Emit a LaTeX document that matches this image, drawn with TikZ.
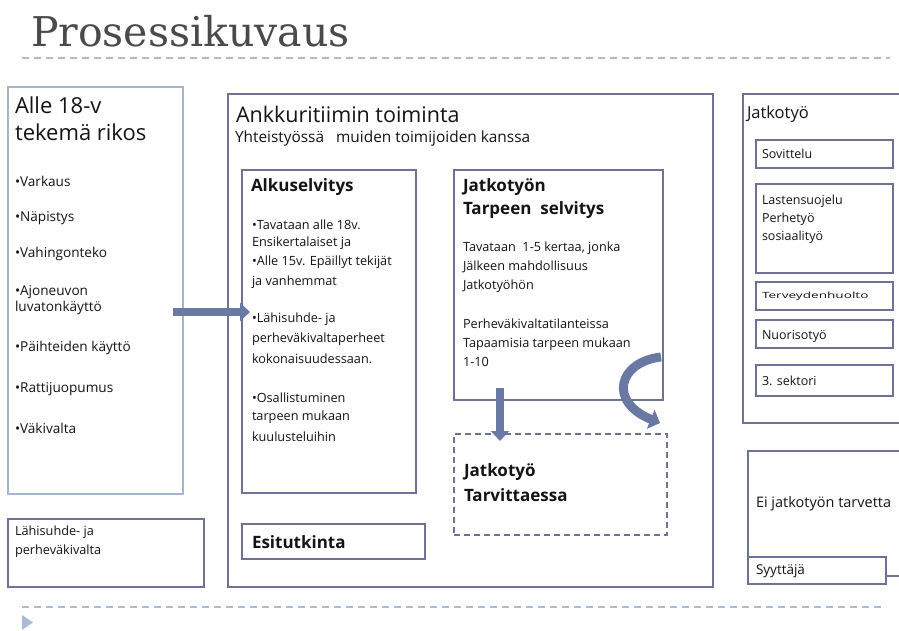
\documentclass[tikz,border=0pt]{standalone}
\usepackage{fontspec}
\usepackage{graphicx}
\setmainfont{Open Sans}
\newfontfamily\titlefont{DejaVu Serif}
\usetikzlibrary{arrows.meta}
\definecolor{bord}{HTML}{6E7396}
\definecolor{lbord}{HTML}{A3B6CE}
\definecolor{arr}{HTML}{6A79A3}
\definecolor{dsh}{HTML}{A9BCD0}
\definecolor{ink}{HTML}{141414}
\definecolor{tgray}{HTML}{4A4A4A}
\begin{document}
\begin{tikzpicture}[x=1pt,y=-1pt,
  every node/.style={inner sep=0pt, outer sep=0pt},
  box/.style={draw=bord, line width=1.4pt, anchor=north west, fill=white},
  lbox/.style={draw=lbord, line width=1.8pt, anchor=north west},
  dbox/.style={draw=bord, line width=1.4pt, dashed, dash pattern=on 6pt off 4pt, anchor=north west},
  sep/.style={draw=dsh, line width=1.4pt, dash pattern=on 7pt off 5pt},
  tx/.style={anchor=west, text=ink, font=\fontsize{12.7}{14}\selectfont},
  tl/.style={anchor=west, text=ink, font=\fontsize{13.6}{15}\selectfont},
  tsm/.style={anchor=west, text=ink, font=\fontsize{12.5}{14}\selectfont},
  tbig/.style={anchor=west, text=ink, font=\fontsize{22}{24}\selectfont},
  tbold/.style={anchor=west, text=ink, font=\fontsize{17}{19}\selectfont\bfseries},
  blockarrow/.style={draw=arr, line width=8pt, -{Triangle[length=10pt,width=18pt]}}
]
\path[use as bounding box, clip] (0,0) rectangle (899,631);
\fill[white] (0,0) rectangle (899,631);

% title and separators
\node[anchor=base west, text=tgray, font=\fontsize{41}{44}\selectfont\titlefont] (title) at (31,47) {Prosessikuvaus};
\coordinate (s1a) at (22,58); \coordinate (s1b) at (890,58);
\draw[sep] (s1a) -- (s1b);
\coordinate (s2a) at (22,607); \coordinate (s2b) at (886,607);
\draw[sep] (s2a) -- (s2b);
\fill[dsh] (22,615) -- (33,622.5) -- (22,630) -- cycle;

% left column
\node[lbox, minimum width=175pt, minimum height=407pt] (alle) at (8,87) {};
\node[tbig] (alle1) at (15,105) {Alle 18-v};
\node[tbig] (alle2) at (15,132) {tekemä rikos};
\node[tl] (r1) at (15,181) {•Varkaus};
\node[tl] (r2) at (15,218) {•Näpistys};
\node[tl] (r3) at (15,254) {•Vahingonteko};
\node[tl] (r4) at (15,292) {•Ajoneuvon};
\node[tl] (r4b) at (15,308) {luvatonkäyttö};
\node[tl] (r5) at (15,348) {•Päihteiden käyttö};
\node[tl] (r6) at (15,389) {•Rattijuopumus};
\node[tl] (r7) at (15,428) {•Väkivalta};

\node[box, minimum width=196pt, minimum height=68pt] (lahi) at (8,519) {};
\node[tx] (lahi1) at (15,532) {Lähisuhde- ja};
\node[tx] (lahi2) at (15,551) {perheväkivalta};

% Ankkuritiimi
\node[box, minimum width=485pt, minimum height=493pt] (ank) at (228,94) {};
\node[anchor=west, text=ink, font=\fontsize{21.5}{24}\selectfont] (ank1) at (236,114) {Ankkuritiimin toiminta};
\node[anchor=west, text=ink, font=\fontsize{15.4}{17}\selectfont] (ank2) at (235,139) {Yhteistyössä\ \ \ muiden toimijoiden\ kanssa};

\node[box, minimum width=174pt, minimum height=323pt] (alk) at (242,170) {};
\node[tbold] (alk0) at (251,187) {Alkuselvitys};
\node[tx] (a1) at (252,225) {•Tavataan alle 18v.};
\node[tx] (a2) at (252,243) {Ensikertalaiset ja};
\node[tx] (a3) at (252,262) {•Alle 15v. Epäillyt tekijät};
\node[tx] (a4) at (252,282) {ja vanhemmat};
\node[tx] (a5) at (252,319) {•Lähisuhde- ja};
\node[tx] (a6) at (252,339) {perheväkivaltaperheet};
\node[tx] (a7) at (252,359) {kokonaisuudessaan.};
\node[tx] (a8) at (252,398) {•Osallistuminen};
\node[tx] (a9) at (252,417) {tarpeen mukaan};
\node[tx] (a10) at (252,437) {kuulusteluihin};

\node[box, minimum width=183pt, minimum height=35pt] (esi) at (242,524) {};
\node[tbold] (esi1) at (252,542) {Esitutkinta};

\node[box, minimum width=209pt, minimum height=230pt] (jts) at (454,170) {};
\node[tbold] (jts1) at (463,187) {Jatkotyön};
\node[tbold] (jts2) at (463,210) {Tarpeen\ \ selvitys};
\node[tx] (j1) at (463,248) {Tavataan\ \ 1-5 kertaa, jonka};
\node[tx] (j2) at (463,267) {Jälkeen mahdollisuus};
\node[tx] (j3) at (463,286) {Jatkotyöhön};
\node[tx] (j4) at (463,324) {Perheväkivaltatilanteissa};
\node[tx] (j5) at (463,344) {Tapaamisia tarpeen mukaan};
\node[tx] (j6) at (463,362) {1-10};

\node[dbox, minimum width=213pt, minimum height=101pt] (jtv) at (454,434) {};
\node[tbold] (jtv1) at (464,472) {Jatkotyö};
\node[tbold] (jtv2) at (464,495) {Tarvittaessa};

% Jatkotyo column
\node[box, minimum width=170pt, minimum height=329pt] (jk) at (743,94) {};
\node[anchor=west, text=ink, font=\fontsize{16.5}{19}\selectfont] (jk1) at (747,114) {Jatkotyö};
\node[box, minimum width=137pt, minimum height=28pt] (sov) at (756,140) {};
\node[tsm] (sov1) at (762,154) {Sovittelu};
\node[box, minimum width=137pt, minimum height=89pt] (las) at (756,184) {};
\node[tsm] (las1) at (762,201) {Lastensuojelu};
\node[tsm] (las2) at (762,219) {Perhetyö};
\node[tsm] (las3) at (762,237) {sosiaalityö};
\node[box, minimum width=137pt, minimum height=28pt] (ter) at (756,282) {};
\node[anchor=west, text=ink, font=\fontsize{8.5}{9}\selectfont] (ter1) at (762,296) {\scalebox{1.6}[1]{Terveydenhuolto}};
\node[box, minimum width=137pt, minimum height=28pt] (nuo) at (756,320) {};
\node[tsm] (nuo1) at (762,336) {Nuorisotyö};
\node[box, minimum width=137pt, minimum height=31pt] (sek) at (756,365) {};
\node[tsm] (sek1) at (762,381) {3. sektori};

\node[box, minimum width=170pt, minimum height=125pt] (ei) at (748,451) {};
\node[anchor=west, text=ink, font=\fontsize{14.5}{16}\selectfont] (ei1) at (756,504) {Ei jatkotyön tarvetta};
\node[box, minimum width=138pt, minimum height=27pt] (syy) at (748,557) {};
\node[anchor=west, text=ink, font=\fontsize{13.5}{15}\selectfont] (syy1) at (756,571) {Syyttäjä};

% arrows
\coordinate (ar1s) at (173,312);
\coordinate (ar1e) at ([xshift=8pt]alk.west |- ar1s);
\draw[blockarrow] (ar1s) -- (ar1e);
\coordinate (ar2s) at (500,388);
\coordinate (ar2e) at (500,441);
\draw[blockarrow] (ar2s) -- (ar2e);
\coordinate (cs) at (661,357);
\coordinate (ce) at (660,423);
\draw[draw=arr, line width=9pt, -{Triangle[length=10pt,width=20pt]}]
  (cs) .. controls (618,362) and (608,402) .. (ce);
\end{tikzpicture}
\end{document}
